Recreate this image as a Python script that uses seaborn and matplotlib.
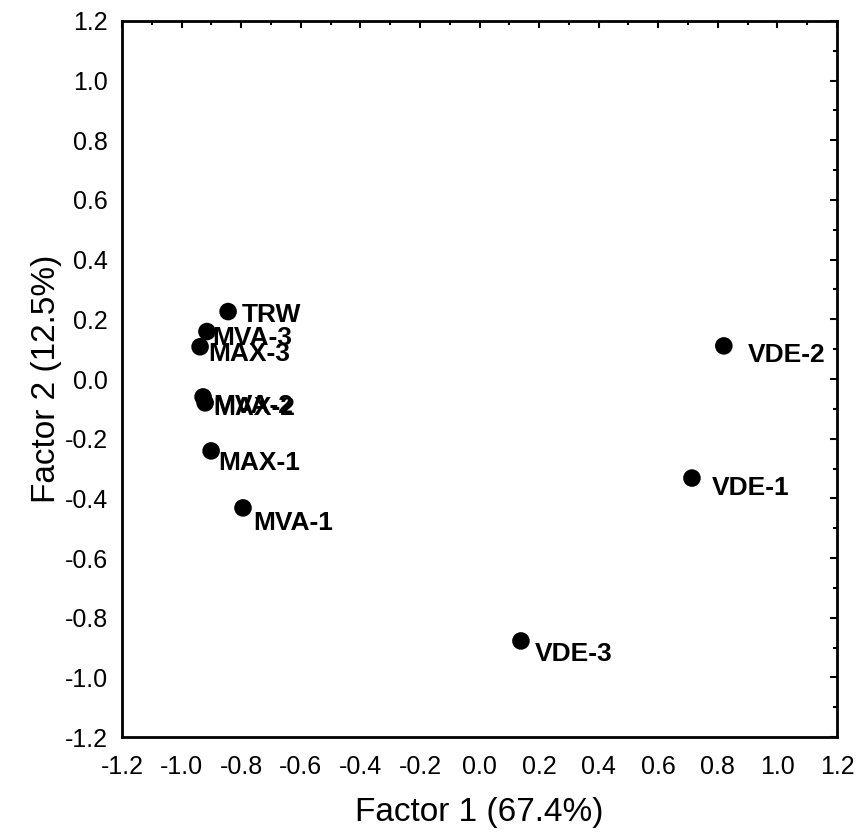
import matplotlib
matplotlib.use("Agg")
import matplotlib.pyplot as plt
import seaborn as sns
import pandas as pd
import numpy as np
from matplotlib.ticker import MultipleLocator, FormatStrFormatter

# ---- data ----
samples = ["TRW", "MVA-3", "MAX-3", "MVA-2", "MAX-2", "MAX-1", "MVA-1", "VDE-3", "VDE-2", "VDE-1"]
factor1 = [-0.844, -0.915, -0.938, -0.928, -0.921, -0.901, -0.794, 0.139, 0.820, 0.713]
factor2 = [0.226, 0.159, 0.108, -0.060, -0.080, -0.241, -0.432, -0.878, 0.111, -0.332]

x_label = "Factor 1 (67.4%)"
y_label = "Factor 2 (12.5%)"

# label placement (pixels: right, down from point)
label_offsets = [(14, 10), (5, 13), (8, 14), (10, 16), (8, 12), (7, 19), (10, 22), (14, 20), (24, 16), (20, 17)]

df = pd.DataFrame({"sample": samples, "f1": factor1, "f2": factor2})

sns.set_theme(style="white")
plt.rcParams["font.family"] = ["Liberation Sans", "DejaVu Sans"]

fig = plt.figure(figsize=(8.6, 8.36), dpi=100)
ax = fig.add_axes([0.1419, 0.1184, 0.8314, 0.8565])

sns.scatterplot(data=df, x="f1", y="f2", ax=ax, color="black", s=160,
                edgecolor="none", linewidth=0, legend=False, zorder=3)

for name, x, y, (dx, dy) in zip(samples, factor1, factor2, label_offsets):
    ax.annotate(name, (x, y), xytext=(dx, -dy), textcoords="offset pixels",
                ha="left", va="baseline", fontsize=19, fontweight="bold",
                color="black", zorder=4)

ax.set_xlim(-1.2, 1.2)
ax.set_ylim(-1.2, 1.2)
ax.xaxis.set_major_locator(MultipleLocator(0.2))
ax.yaxis.set_major_locator(MultipleLocator(0.2))
ax.xaxis.set_minor_locator(MultipleLocator(0.1))
ax.yaxis.set_minor_locator(MultipleLocator(0.1))
ax.xaxis.set_major_formatter(FormatStrFormatter("%.1f"))
ax.yaxis.set_major_formatter(FormatStrFormatter("%.1f"))

ax.tick_params(which="both", direction="in", top=True, right=True, color="black",
               labelsize=18, labelcolor="black")
ax.tick_params(axis="x", which="major", pad=13, length=5, width=1.5)
ax.tick_params(axis="y", which="major", pad=10, length=5, width=1.5)
ax.tick_params(which="minor", length=3, width=1.5)

for sp in ax.spines.values():
    sp.set_visible(True)
    sp.set_color("black")
    sp.set_linewidth(2)

ax.set_xlabel(x_label, fontsize=24, color="black", labelpad=13)
ax.set_ylabel(y_label, fontsize=24, color="black", labelpad=2)
ax.grid(False)

fig.savefig("out.png", dpi=100, facecolor="white")
